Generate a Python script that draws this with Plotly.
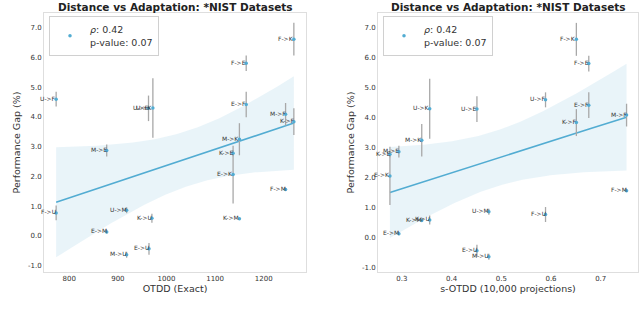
import numpy as np
import plotly.graph_objects as go

# ---------------- data ----------------
pairs = ["M->E", "M->K", "M->F", "M->U",
         "E->M", "E->K", "E->F", "E->U",
         "K->M", "K->E", "K->F", "K->U",
         "F->M", "F->E", "F->K", "F->U",
         "U->M", "U->E", "U->K", "U->F"]
otdd_exact = [877, 1150, 1245, 918,
              877, 1137, 1164, 964,
              1150, 1137, 1262, 970,
              1245, 1164, 1262, 773,
              918, 963, 972, 773]
sotdd = [0.294, 0.340, 0.752, 0.475,
         0.294, 0.276, 0.676, 0.451,
         0.340, 0.276, 0.651, 0.356,
         0.752, 0.676, 0.651, 0.589,
         0.475, 0.451, 0.356, 0.589]
perf_gap = [2.87, 3.25, 4.09, -0.64,
            0.13, 2.06, 4.42, -0.44,
            0.57, 2.78, 3.84, 0.59,
            1.56, 5.81, 6.62, 0.77,
            0.86, 4.29, 4.30, 4.60]
perf_err = [0.20, 0.54, 0.38, 0.10,
            0.05, 0.97, 0.43, 0.20,
            0.03, 0.10, 0.45, 0.15,
            0.04, 0.26, 0.55, 0.25,
            0.10, 0.43, 1.00, 0.25]

left_xticks = [800, 900, 1000, 1100, 1200]
left_xticklabels = ["800", "900", "1000", "1100", "1200"]
right_xticks = [0.3, 0.4, 0.5, 0.6, 0.7]
right_xticklabels = ["0.3", "0.4", "0.5", "0.6", "0.7"]
yticks = [-1, 0, 1, 2, 3, 4, 5, 6, 7]
yticklabels = ["-1.0", "0.0", "1.0", "2.0", "3.0", "4.0", "5.0", "6.0", "7.0"]

title_text = "Distance vs Adaptation: *NIST Datasets"
legend_text = "<i>ρ</i>: 0.42<br>p-value: 0.07"
left_xlabel = "OTDD (Exact)"
right_xlabel = "s-OTDD (10,000 projections)"
ylabel = "Performance Gap (%)"

T975_DF18 = 2.101  # Student t quantile for 95% CI, n-2 = 18

# ---------------- styles ----------------
BLUE = "#52acd2"
BAND = "rgba(82,172,210,0.13)"
ERR = "#a8a8a8"
FRAME = "#dedede"
TXT = "#333333"
FONT = "DejaVu Sans"


def regression(x, y):
    x = np.asarray(x, float)
    y = np.asarray(y, float)
    n = len(x)
    b, a = np.polyfit(x, y, 1)
    resid = y - (a + b * x)
    s = np.sqrt(np.sum(resid ** 2) / (n - 2))
    xg = np.linspace(x.min(), x.max(), 100)
    yg = a + b * xg
    sxx = np.sum((x - x.mean()) ** 2)
    half = T975_DF18 * s * np.sqrt(1.0 / n + (xg - x.mean()) ** 2 / sxx)
    return xg, yg, yg - half, yg + half


fig = go.Figure()
annotations = []

panels = [
    (otdd_exact, "x", "y", "legend"),
    (sotdd, "x2", "y2", "legend2"),
]

for xs, xa, ya, leg in panels:
    xg, yg, lo, hi = regression(xs, perf_gap)
    fig.add_trace(go.Scatter(
        x=np.concatenate([xg, xg[::-1]]), y=np.concatenate([hi, lo[::-1]]),
        fill="toself", fillcolor=BAND, line=dict(width=0), mode="lines",
        hoverinfo="skip", showlegend=False, xaxis=xa, yaxis=ya))
    fig.add_trace(go.Scatter(
        x=xg, y=yg, mode="lines", line=dict(color=BLUE, width=1.6),
        showlegend=False, xaxis=xa, yaxis=ya))
    fig.add_trace(go.Scatter(
        x=xs, y=perf_gap, mode="markers",
        marker=dict(color=BLUE, size=3.5),
        error_y=dict(type="data", array=perf_err, color=ERR,
                     thickness=1.3, width=0),
        name=legend_text, showlegend=True, legend=leg,
        xaxis=xa, yaxis=ya))
    for px, py, lab in zip(xs, perf_gap, pairs):
        annotations.append(dict(
            x=px, y=py, xref=xa, yref=ya, text=lab, showarrow=False,
            xanchor="right", yanchor="middle", xshift=2, yshift=1,
            font=dict(family=FONT, size=6, color=TXT)))

# titles (centered over each axes)
for cx in [(44 + 306) / 2 / 640, (378 + 638) / 2 / 640]:
    annotations.append(dict(
        x=cx, y=1.0, xref="paper", yref="paper", text="<b>" + title_text + "</b>",
        showarrow=False, xanchor="center", yanchor="top", yshift=1,
        font=dict(family=FONT, size=10.5, color="#222222")))

axis_common = dict(
    showgrid=False, zeroline=False, showline=True, linecolor=FRAME,
    linewidth=1, mirror=True, ticks="",
    tickfont=dict(family=FONT, size=7, color=TXT),
)
title_font = dict(family=FONT, size=9.5, color=TXT)

fig.update_layout(
    width=640, height=313,
    margin=dict(l=0, r=0, t=0, b=0),
    paper_bgcolor="white", plot_bgcolor="white",
    font=dict(family=FONT, color=TXT),
    hovermode=False,
    annotations=annotations,
    xaxis=dict(domain=[44 / 640, 306 / 640], range=[748, 1287],
               tickvals=left_xticks, ticktext=left_xticklabels,
               title=dict(text=left_xlabel, font=title_font, standoff=2),
               anchor="y", **axis_common),
    yaxis=dict(domain=[1 - 272 / 313, 1 - 13 / 313], range=[-1.22, 7.5],
               tickvals=yticks, ticktext=yticklabels,
               title=dict(text=ylabel, font=title_font, standoff=5),
               anchor="x", **axis_common),
    xaxis2=dict(domain=[378 / 640, 638 / 640], range=[0.252, 0.775],
                tickvals=right_xticks, ticktext=right_xticklabels,
                title=dict(text=right_xlabel, font=title_font, standoff=2),
                anchor="y2", **axis_common),
    yaxis2=dict(domain=[1 - 272 / 313, 1 - 13 / 313], range=[-1.15, 7.5],
                tickvals=yticks, ticktext=yticklabels,
                title=dict(text=ylabel, font=title_font, standoff=5),
                anchor="x2", **axis_common),
    legend=dict(x=49 / 640, y=1 - 16 / 313, xanchor="left", yanchor="top",
                bordercolor="#d0d0d0", borderwidth=1, bgcolor="white",
                font=dict(family=FONT, size=9.5, color=TXT),
                itemwidth=30, tracegroupgap=0),
    legend2=dict(x=383 / 640, y=1 - 16 / 313, xanchor="left", yanchor="top",
                 bordercolor="#d0d0d0", borderwidth=1, bgcolor="white",
                 font=dict(family=FONT, size=9.5, color=TXT),
                 itemwidth=30, tracegroupgap=0),
)

fig.write_html("out.html",
               config={"displayModeBar": False, "staticPlot": True},
               post_script="document.body.style.margin='0';document.body.style.overflow='hidden';")
